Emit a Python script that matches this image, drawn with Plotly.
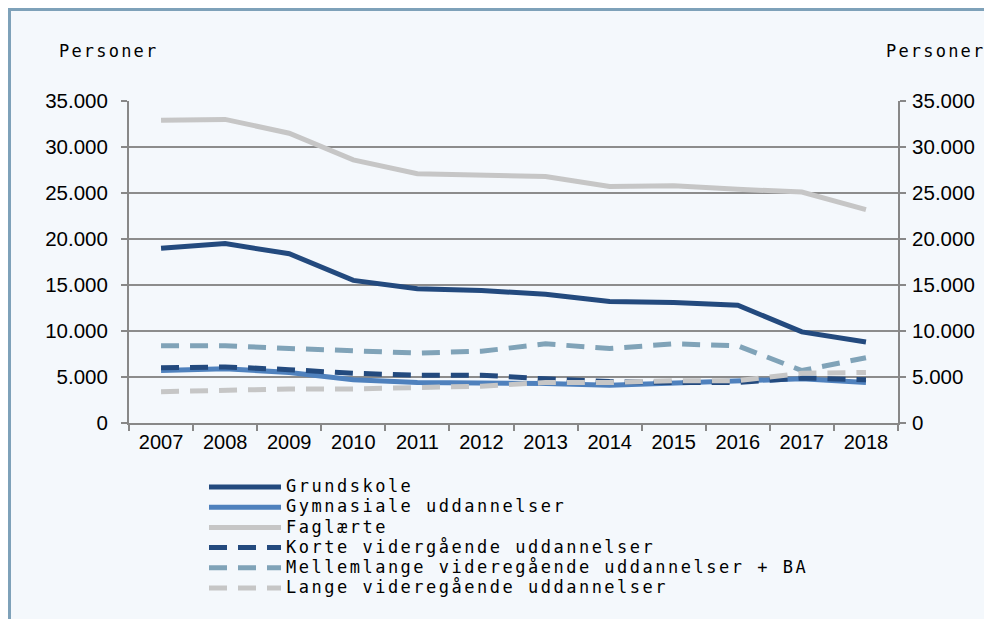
import plotly.graph_objects as go

years = ["2007", "2008", "2009", "2010", "2011", "2012", "2013", "2014", "2015", "2016", "2017", "2018"]
grundskole = [19000, 19500, 18400, 15500, 14600, 14400, 14000, 13200, 13100, 12800, 9900, 8800]
gymnasiale = [5700, 5900, 5500, 4700, 4400, 4400, 4300, 4100, 4300, 4500, 4800, 4400]
faglaerte = [32900, 33000, 31500, 28600, 27100, 26900, 26800, 25700, 25800, 25400, 25100, 23200]
korte = [6000, 6100, 5800, 5400, 5200, 5200, 4800, 4500, 4400, 4400, 4900, 4700]
mellemlange = [8400, 8400, 8100, 7800, 7600, 7800, 8600, 8100, 8600, 8400, 5700, 7100]
lange = [3400, 3600, 3700, 3700, 3800, 4000, 4400, 4400, 4600, 4600, 5400, 5500]
names = ["Grundskole", "Gymnasiale uddannelser", "Faglærte",
         "Korte vidergående uddannelser", "Mellemlange videregående uddannelser + BA",
         "Lange videregående uddannelser"]
tick_vals = [0, 5000, 10000, 15000, 20000, 25000, 30000, 35000]

NAVY = "#234a7e"
BLUE = "#4f81bd"
GREY = "#c6c6c6"
STEEL = "#80a3b8"

series = [
    (grundskole, NAVY, "solid"),
    (gymnasiale, BLUE, "solid"),
    (faglaerte, GREY, "solid"),
    (korte, NAVY, "18px,11px"),
    (mellemlange, STEEL, "18px,11px"),
    (lange, GREY, "18px,11px"),
]

MONO = "DejaVu Sans Mono"
def spaced(t, ls=2.5, size=17):
    return f'<span style="letter-spacing:{ls}px;font-size:{size}px">{t}</span>'

fig = go.Figure()
for (vals, col, dash), nm in zip(series, names):
    fig.add_trace(go.Scatter(x=years, y=vals, mode="lines", name=spaced(nm),
                             line=dict(color=col, width=5, dash=dash)))
# invisible trace for right axis
fig.add_trace(go.Scatter(x=years, y=faglaerte, yaxis="y2", mode="lines",
                         line=dict(width=0, color="rgba(0,0,0,0)"),
                         showlegend=False, hoverinfo="skip"))

O = 8  # page body offset
W, H = 992 - O, 619 - O
L, R, T, B = 129 - O, 898 - O, 101 - O, 423 - O
pw, ph = R - L, B - T
def px(x):
    return (x - O - L) / pw
def py(y):
    return (B - (y - O)) / ph

fig.add_shape(type="rect", xref="paper", yref="paper",
              x0=px(9.5), x1=px(989.5), y0=py(660), y1=py(9.5),
              line=dict(color="#7ea1b9", width=3), fillcolor="#f4f8fc", layer="below")

axis_common = dict(ticks="outside", tickcolor="#888888", tickwidth=2, showline=True,
                   linecolor="#888888", linewidth=2, automargin=False)

fig.update_layout(
    width=W, height=H,
    margin=dict(l=L, r=W - R, t=T, b=H - B, pad=0),
    paper_bgcolor="white", plot_bgcolor="white",
    separators=",.",
    font=dict(family="Liberation Sans", size=20, color="black"),
    showlegend=True,
    legend=dict(x=px(204), y=py(472), xanchor="left", yanchor="top",
                bgcolor="rgba(0,0,0,0)", font=dict(family=MONO, size=13.2, color="black"),
                itemwidth=72, tracegroupgap=0),
    xaxis=dict(type="category", tickson="boundaries", ticklen=6, showgrid=False,
               tickfont=dict(size=20), range=[-0.5, 11.5], **axis_common),
    yaxis=dict(range=[0, 35000], tickvals=tick_vals, tickformat=",d", ticklen=6,
               showgrid=True, gridcolor="#8c8c8c", gridwidth=1.5, zeroline=False,
               tickfont=dict(size=20.5), ticklabelstandoff=9, **axis_common),
    yaxis2=dict(range=[0, 35000], tickvals=tick_vals, tickformat=",d", ticklen=6,
                showgrid=False, zeroline=False, overlaying="y", side="right",
                tickfont=dict(size=20.5), ticklabelstandoff=2, **axis_common),
)

fig.add_annotation(text=spaced("Personer", 2.2), xref="paper", yref="paper",
                   x=px(57), y=py(51), xanchor="left", yanchor="middle", showarrow=False,
                   font=dict(family=MONO, size=17, color="black"))
fig.add_annotation(text=spaced("Personer", 2.2), xref="paper", yref="paper",
                   x=px(987), y=py(51), xanchor="right", yanchor="middle", showarrow=False,
                   font=dict(family=MONO, size=17, color="black"))

fig.write_html("out.html")
